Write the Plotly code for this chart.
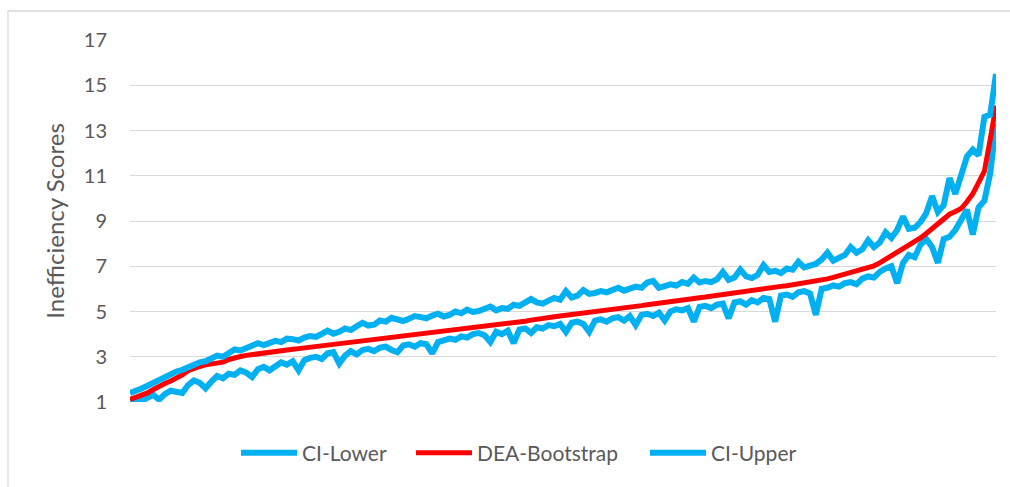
import plotly.graph_objects as go

# Decision-making units (categories on the x axis, unlabeled in the chart)
units = list(range(1, 151))

dea_bootstrap = [
    1.12, 1.20, 1.30, 1.40, 1.55, 1.70, 1.82, 1.93, 2.05, 2.20,
    2.38, 2.50, 2.57, 2.64, 2.68, 2.72, 2.76, 2.88, 2.97, 3.01,
    3.06, 3.10, 3.14, 3.18, 3.21, 3.24, 3.27, 3.30, 3.33, 3.36,
    3.39, 3.42, 3.45, 3.48, 3.51, 3.54, 3.57, 3.60, 3.63, 3.66,
    3.69, 3.72, 3.75, 3.78, 3.81, 3.84, 3.87, 3.90, 3.93, 3.96,
    4.00, 4.03, 4.06, 4.09, 4.12, 4.15, 4.18, 4.21, 4.24, 4.27,
    4.30, 4.33, 4.36, 4.39, 4.42, 4.45, 4.49, 4.53, 4.57, 4.62,
    4.67, 4.71, 4.74, 4.77, 4.80, 4.83, 4.86, 4.89, 4.92, 4.95,
    4.98, 5.01, 5.04, 5.07, 5.10, 5.14, 5.18, 5.22, 5.26, 5.30,
    5.34, 5.38, 5.41, 5.44, 5.48, 5.51, 5.54, 5.58, 5.61, 5.64,
    5.68, 5.71, 5.74, 5.78, 5.81, 5.85, 5.89, 5.93, 5.97, 6.02,
    6.05, 6.08, 6.11, 6.14, 6.18, 6.21, 6.25, 6.28, 6.32, 6.38,
    6.44, 6.51, 6.58, 6.65, 6.72, 6.80, 6.87, 6.94, 7.02, 7.15,
    7.30, 7.45, 7.62, 7.78, 7.92, 8.05, 8.25, 8.45, 8.65, 8.87,
    9.08, 9.30, 9.42, 9.55, 9.85, 10.20, 10.70, 11.20, 12.60, 14.10,
]

ci_upper = [
    1.40, 1.48, 1.60, 1.72, 1.85, 1.95, 2.05, 2.22, 2.35, 2.42,
    2.55, 2.62, 2.75, 2.80, 2.92, 3.05, 3.00, 3.20, 3.32, 3.28,
    3.40, 3.45, 3.60, 3.52, 3.62, 3.70, 3.65, 3.80, 3.78, 3.72,
    3.85, 3.92, 3.88, 4.05, 4.15, 4.02, 4.10, 4.25, 4.18, 4.35,
    4.50, 4.38, 4.42, 4.60, 4.55, 4.72, 4.62, 4.58, 4.68, 4.80,
    4.75, 4.70, 4.82, 4.90, 4.78, 4.85, 5.00, 4.92, 5.08, 4.98,
    5.02, 5.10, 5.22, 5.05, 5.15, 5.12, 5.30, 5.25, 5.38, 5.55,
    5.40, 5.35, 5.48, 5.60, 5.52, 5.90, 5.62, 5.70, 5.95, 5.78,
    5.82, 5.90, 5.85, 5.98, 6.05, 5.92, 6.00, 6.10, 6.05, 6.28,
    6.35, 6.05, 6.12, 6.20, 6.15, 6.30, 6.22, 6.50, 6.28, 6.35,
    6.30, 6.42, 6.75, 6.40, 6.50, 6.85, 6.55, 6.48, 6.62, 7.05,
    6.75, 6.80, 6.70, 6.90, 6.85, 7.20, 6.95, 7.05, 7.10, 7.30,
    7.60, 7.25, 7.40, 7.50, 7.85, 7.60, 7.75, 8.15, 7.85, 8.05,
    8.50, 8.25, 8.60, 9.20, 8.65, 8.70, 8.95, 9.35, 10.10, 9.40,
    9.70, 10.90, 10.20, 10.95, 11.85, 12.15, 11.90, 13.60, 13.70, 15.50,
]

ci_lower = [
    1.08, 1.15, 1.05, 1.20, 1.32, 1.10, 1.35, 1.50, 1.45, 1.40,
    1.75, 1.95, 1.85, 1.60, 1.90, 2.15, 2.05, 2.25, 2.20, 2.40,
    2.30, 2.10, 2.45, 2.55, 2.40, 2.60, 2.75, 2.65, 2.80, 2.40,
    2.85, 2.95, 3.00, 2.90, 3.15, 3.20, 2.70, 3.05, 3.25, 3.10,
    3.30, 3.35, 3.25, 3.40, 3.45, 3.30, 3.20, 3.50, 3.55, 3.45,
    3.60, 3.55, 3.15, 3.65, 3.70, 3.80, 3.75, 3.90, 3.85, 4.00,
    4.05, 3.95, 3.65, 4.10, 4.00, 4.15, 3.60, 4.20, 4.25, 4.05,
    4.30, 4.25, 4.40, 4.35, 4.45, 4.10, 4.50, 4.55, 4.45, 4.10,
    4.60, 4.65, 4.55, 4.70, 4.75, 4.60, 4.80, 4.40, 4.85, 4.90,
    4.80, 4.95, 4.60, 5.00, 5.10, 5.05, 5.15, 4.55, 5.20, 5.25,
    5.15, 5.30, 5.35, 4.70, 5.40, 5.45, 5.30, 5.50, 5.40, 5.60,
    5.55, 4.55, 5.70, 5.75, 5.65, 5.85, 5.90, 5.80, 4.85, 6.00,
    6.05, 6.15, 6.10, 6.25, 6.30, 6.20, 6.45, 6.55, 6.50, 6.75,
    6.90, 7.00, 6.25, 7.15, 7.50, 7.40, 7.95, 8.20, 7.85, 7.15,
    8.20, 8.30, 8.60, 9.00, 9.50, 8.40, 9.60, 9.90, 11.10, 13.30,
]

y_ticks = [1, 3, 5, 7, 9, 11, 13, 15, 17]

BLUE = "#00B0F0"
RED = "#FF0000"
TXT = "#595959"
GRID = "#D9D9D9"
FONT = "Lato"

W, H = 1010, 487
L, R, T, B = 130, 14, 40, 85
pw, ph = W - L - R, H - T - B


def px_x(p):
    return (p - L) / pw


def px_y(p):
    return (H - B - p) / ph


fig = go.Figure()
fig.add_trace(go.Scatter(x=units, y=ci_lower, mode="lines", name="CI-Lower",
                         legend="legend", line=dict(color=BLUE, width=6)))
fig.add_trace(go.Scatter(x=units, y=dea_bootstrap, mode="lines", name="DEA-Bootstrap",
                         legend="legend2", line=dict(color=RED, width=5)))
fig.add_trace(go.Scatter(x=units, y=ci_upper, mode="lines", name="CI-Upper",
                         legend="legend3", line=dict(color=BLUE, width=6)))

leg_common = dict(orientation="h", xanchor="left", yanchor="middle",
                  y=px_y(453), itemwidth=56, borderwidth=0,
                  bgcolor="rgba(0,0,0,0)",
                  font=dict(family=FONT, size=21, color=TXT))

fig.update_layout(
    width=W, height=H,
    margin=dict(l=L, r=R, t=T, b=B),
    paper_bgcolor="white", plot_bgcolor="white",
    font=dict(family=FONT, color=TXT, size=20),
    showlegend=True,
    legend=dict(x=px_x(236), **leg_common),
    legend2=dict(x=px_x(411), **leg_common),
    legend3=dict(x=px_x(645), **leg_common),
    xaxis=dict(range=[units[0], units[-1]], showgrid=False, zeroline=False,
               showline=False, showticklabels=False, ticks=""),
    yaxis=dict(range=[1, 17], tickvals=y_ticks, showgrid=True, gridcolor=GRID,
               gridwidth=1.3, zeroline=False, showline=False, ticks="",
               automargin=False, ticklabelstandoff=22,
               tickfont=dict(family=FONT, size=20, color=TXT),
               title=dict(text="Inefficiency Scores", standoff=12,
                          font=dict(family=FONT, size=24, color=TXT))),
    shapes=[dict(type="rect", xref="paper", yref="paper",
                 x0=px_x(8), x1=px_x(1030),
                 y0=px_y(500), y1=px_y(11),
                 line=dict(color=GRID, width=1.3), fillcolor="rgba(0,0,0,0)",
                 layer="below")],
)

fig.write_html("out.html", config={"displayModeBar": False},
               post_script="document.body.style.margin='0';")
